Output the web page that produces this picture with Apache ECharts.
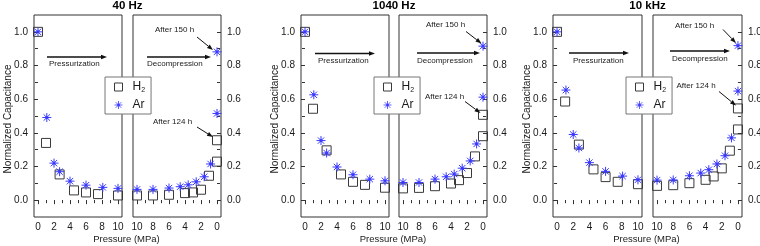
<!DOCTYPE html>
<html>
<head>
<meta charset="utf-8">
<script src="https://cdn.jsdelivr.net/npm/echarts@6/dist/echarts.min.js"></script>
<style>
  html, body { margin: 0; padding: 0; background: #fff; }
  #chart { width: 760px; height: 246px; }
</style>
</head>
<body>
<div id="chart"></div>
<script>
// pressure at which each point was taken (MPa)
var pressH2Up = [0, 1, 2.7, 4.5, 6, 7.5, 10];
var pressArUp = [0, 1.1, 2, 2.7, 4, 6, 8.1, 10];
var pressH2Down = [10, 8, 6, 4, 3, 2, 1, 0, 0];
var pressArDown = [10, 8, 6, 4.6, 3.6, 2.6, 1.6, 0.8, 0, 0];

var frequencies = ["40 Hz", "1040 Hz", "10 kHz"];

// normalized capacitance, one row per frequency
var h2Up = [
  [1.0, 0.34, 0.153, 0.058, 0.046, 0.036, 0.028],
  [1.0, 0.543, 0.296, 0.153, 0.109, 0.091, 0.074],
  [1.0, 0.586, 0.33, 0.183, 0.137, 0.109, 0.095]
];
var arUp = [
  [1.0, 0.491, 0.22, 0.169, 0.113, 0.089, 0.076, 0.07],
  [1.0, 0.626, 0.354, 0.28, 0.197, 0.151, 0.125, 0.115],
  [1.0, 0.654, 0.39, 0.31, 0.223, 0.171, 0.143, 0.121]
];
var h2Down = [
  [0.028, 0.028, 0.032, 0.042, 0.046, 0.062, 0.145, 0.229, 0.356],
  [0.07, 0.073, 0.083, 0.099, 0.119, 0.161, 0.26, 0.38, 0.507],
  [0.085, 0.089, 0.101, 0.121, 0.141, 0.189, 0.294, 0.42, 0.545]
];
var arDown = [
  [0.064, 0.064, 0.072, 0.08, 0.091, 0.109, 0.139, 0.215, 0.515, 0.881],
  [0.105, 0.105, 0.125, 0.139, 0.155, 0.19, 0.233, 0.334, 0.612, 0.915],
  [0.119, 0.12, 0.145, 0.161, 0.181, 0.215, 0.264, 0.37, 0.648, 0.918]
];

var xMajor = [0, 2, 4, 6, 8, 10];
var xMinor = [1, 3, 5, 7, 9];
var xAll = [0, 1, 2, 3, 4, 5, 6, 7, 8, 9, 10];
var yMajor = [0, 0.2, 0.4, 0.6, 0.8, 1.0];
var yMinor = [0.1, 0.3, 0.5, 0.7, 0.9];
var yAll = [0, 0.1, 0.2, 0.3, 0.4, 0.5, 0.6, 0.7, 0.8, 0.9, 1.0];

var FONT = '"Liberation Sans", Arial, sans-serif';
var INK = "#1a1a1a";
var FRAME = "#333";
var BLUE = "#3b3bff";
var STAR = "path://M5,0L5,10M0,5L10,5M1.46,1.46L8.54,8.54M1.46,8.54L8.54,1.46M4,4L6,4L6,6L4,6Z";
var TOP = 15, HEIGHT = 202;

// pixel layout of the three figure parts
var layout = [
  { up: 34, down: 133, w: 88, legend: 105,
    press: [47, 57, 107, 49, 64], decomp: [147, 57, 211, 147, 63.5],
    a150: [155, 30, 197, 37, 213, 50], a124: [153, 122, 197, 127, 213, 137] },
  { up: 301, down: 399, w: 88, legend: 374,
    press: [315, 53.5, 375, 318, 61], decomp: [417, 53, 480, 417, 60.5],
    a150: [426, 25, 466, 31.5, 481.5, 43.5], a124: [425, 96.5, 465, 101.5, 480.5, 113] },
  { up: 553, down: 653, w: 89, legend: 626,
    press: [569, 53, 629, 573, 60.5], decomp: [670, 51, 730, 672, 58.5],
    a150: [675, 25.5, 723, 29.5, 736, 43], a124: [676.5, 85.5, 719, 91.5, 736, 105.5] }
];

var grid = [], xAxis = [], yAxis = [], series = [], graphic = [];

function tickAxis(extra) {
  var base = {
    type: "value",
    axisLine: { show: false },
    splitLine: { show: false },
    axisLabel: { show: false },
    axisTick: { show: true, lineStyle: { color: FRAME, width: 1 } }
  };
  return echarts.util.merge(base, extra, true);
}

function addPanel(left, width, inverse, ySide, hx, hy, ax, ay) {
  var gMain = grid.length;
  grid.push({ left: left, top: TOP, width: width, height: HEIGHT, show: true,
    borderColor: FRAME, borderWidth: 1, backgroundColor: "transparent", outerBoundsMode: "none" });
  var gMinor = grid.length;
  grid.push({ left: left, top: TOP, width: width, height: HEIGHT, show: false, outerBoundsMode: "none" });

  var xi = xAxis.length;
  xAxis.push(tickAxis({ gridIndex: gMain, position: "bottom", min: -0.5, max: 10.5, inverse: inverse,
    axisTick: { customValues: xMajor, length: 4 },
    axisLabel: { show: true, customValues: xMajor, margin: 5, fontSize: 10, color: INK, fontFamily: FONT } }));
  xAxis.push(tickAxis({ gridIndex: gMain, position: "top", min: -0.5, max: 10.5, inverse: inverse,
    axisTick: { customValues: xAll, length: 3, inside: true } }));
  xAxis.push(tickAxis({ gridIndex: gMinor, position: "bottom", min: -0.5, max: 10.5, inverse: inverse,
    axisTick: { customValues: xMinor, length: 2.5 } }));

  var other = ySide === "left" ? "right" : "left";
  var yi = yAxis.length;
  yAxis.push(tickAxis({ gridIndex: gMain, position: ySide, min: -0.1, max: 1.1,
    axisTick: { customValues: yMajor, length: 4 },
    axisLabel: { show: true, customValues: yMajor, margin: 6, fontSize: 10, color: INK, fontFamily: FONT,
      formatter: function (v) { return v.toFixed(1); } } }));
  yAxis.push(tickAxis({ gridIndex: gMain, position: other, min: -0.1, max: 1.1,
    axisTick: { customValues: yAll, length: 3, inside: true } }));
  yAxis.push(tickAxis({ gridIndex: gMinor, position: ySide, min: -0.1, max: 1.1,
    axisTick: { customValues: yMinor, length: 2.5 } }));

  series.push({
    type: "scatter", name: "H2", xAxisIndex: xi, yAxisIndex: yi,
    symbol: "rect", symbolSize: 9,
    itemStyle: { color: "rgba(255,255,255,0)", borderColor: "#3a3a3a", borderWidth: 1, opacity: 1 },
    data: hx.map(function (x, i) { return [x, hy[i]]; }),
    z: 3
  });
  series.push({
    type: "scatter", name: "Ar", xAxisIndex: xi, yAxisIndex: yi,
    symbol: STAR, symbolSize: 9,
    itemStyle: { color: BLUE, borderColor: BLUE, borderWidth: 1, opacity: 1 },
    data: ax.map(function (x, i) { return [x, ay[i]]; }),
    z: 4
  });
}

function text(str, x, y, size, opts) {
  return echarts.util.extend({
    type: "text", x: x, y: y, z: 20, silent: true,
    style: echarts.util.extend({ text: str, fontSize: size, fontFamily: FONT, fill: INK,
      align: "left", verticalAlign: "middle" }, (opts && opts.style) || {})
  }, opts && opts.rotation ? { rotation: opts.rotation } : {});
}

function arrow(x1, y1, x2, y2, lw) {
  var a = Math.atan2(y2 - y1, x2 - x1), L = 6, W = 2.2;
  var bx = x2 - L * Math.cos(a), by = y2 - L * Math.sin(a);
  var s = Math.sin(a), c = Math.cos(a);
  graphic.push({ type: "line", z: 20, silent: true, shape: { x1: x1, y1: y1, x2: bx, y2: by },
    style: { stroke: "#111", lineWidth: lw || 1 } });
  graphic.push({ type: "polygon", z: 20, silent: true,
    shape: { points: [[x2, y2], [bx - W * s, by + W * c], [bx + W * s, by - W * c]] },
    style: { fill: "#111" } });
}

frequencies.forEach(function (f, p) {
  var L = layout[p];
  addPanel(L.up, L.w, false, "left", pressH2Up, h2Up[p], pressArUp, arUp[p]);
  addPanel(L.down, L.w, true, "right", pressH2Down, h2Down[p], pressArDown, arDown[p]);

  var mid = (L.up + L.w + L.down) / 2;
  graphic.push(text(f, mid, 6, 11.5, { style: { align: "center", fontWeight: "bold", fill: "#000" } }));
  graphic.push(text("Pressure (MPa)", mid - 1, 239, 9.5, { style: { align: "center" } }));
  graphic.push(text("Normalized Capacitance", L.up - 26, TOP + HEIGHT / 2 + 3, 10,
    { style: { align: "center" }, rotation: Math.PI / 2 }));

  arrow(L.press[0], L.press[1], L.press[2], L.press[1], 1.3);
  graphic.push(text("Pressurization", L.press[3], L.press[4], 8));
  arrow(L.decomp[0], L.decomp[1], L.decomp[2], L.decomp[1], 1.3);
  graphic.push(text("Decompression", L.decomp[3], L.decomp[4], 8));

  graphic.push(text("After 150 h", L.a150[0], L.a150[1], 8));
  arrow(L.a150[2], L.a150[3], L.a150[4], L.a150[5], 1);
  graphic.push(text("After 124 h", L.a124[0], L.a124[1], 8));
  arrow(L.a124[2], L.a124[3], L.a124[4], L.a124[5], 1);
});

var legend = frequencies.map(function (f, p) {
  return {
    data: [
      { name: "H2", icon: "rect", itemStyle: { color: "#fff", borderColor: "#3a3a3a", borderWidth: 1 } },
      { name: "Ar", icon: STAR, itemStyle: { color: BLUE, borderColor: BLUE, borderWidth: 0.8 } }
    ],
    orient: "vertical",
    left: layout[p].legend,
    top: 77,
    padding: [4, 6, 3, 9],
    itemGap: 5,
    itemWidth: 8,
    itemHeight: 8,
    backgroundColor: "#fff",
    borderColor: "#777",
    borderWidth: 1,
    borderRadius: 0,
    selectedMode: false,
    z: 10,
    formatter: function (n) { return n === "H2" ? "{m|H}{s|2}" : "{m|Ar}"; },
    textStyle: {
      fontFamily: FONT, color: INK, fontSize: 12,
      rich: {
        m: { fontSize: 12, fontFamily: FONT, color: INK, padding: [0, 0, 0, 5] },
        s: { fontSize: 7, fontFamily: FONT, color: INK, verticalAlign: "bottom", padding: [7, 0, 0, 0] }
      }
    }
  };
});

var chart = echarts.init(document.getElementById("chart"), null, { renderer: "canvas" });
chart.setOption({
  animation: false,
  backgroundColor: "#fff",
  grid: grid,
  xAxis: xAxis,
  yAxis: yAxis,
  legend: legend,
  series: series,
  graphic: graphic
});
</script>
</body>
</html>
